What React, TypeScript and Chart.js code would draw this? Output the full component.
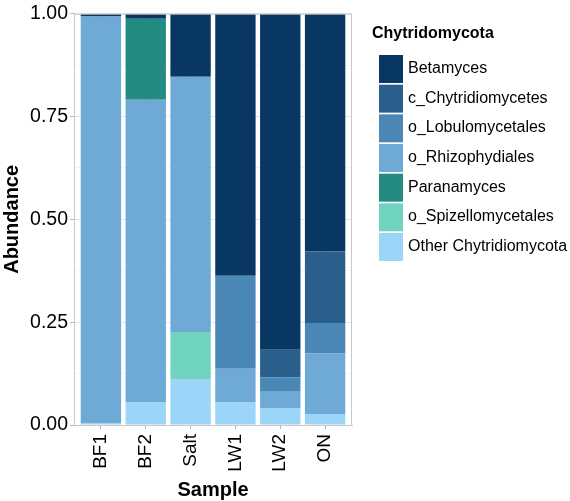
import React, { useEffect, useRef } from "react";
import { Chart, registerables } from "chart.js";

Chart.register(...registerables);

// ---- data ----
const samples = ["BF1", "BF2", "Salt", "LW1", "LW2", "ON"];
const taxa = [
  "Betamyces",
  "c_Chytridiomycetes",
  "o_Lobulomycetales",
  "o_Rhizophydiales",
  "Paranamyces",
  "o_Spizellomycetales",
  "Other Chytridiomycota",
];
const taxaColors = ["#083764", "#2a5f8b", "#4a86b6", "#6eaad5", "#238b82", "#70d4c0", "#9cd5f8"];

const betamyces = [0.007, 0.012, 0.153, 0.637, 0.817, 0.578];
const cChytridiomycetes = [0, 0, 0, 0, 0.067, 0.174];
const oLobulomycetales = [0, 0, 0, 0.226, 0.035, 0.074];
const oRhizophydiales = [0.988, 0.735, 0.621, 0.081, 0.041, 0.147];
const paranamyces = [0, 0.197, 0, 0, 0, 0];
const oSpizellomycetales = [0, 0, 0.114, 0, 0, 0];
const otherChytridiomycota = [0.005, 0.056, 0.112, 0.056, 0.04, 0.027];

const seriesValues = [
  betamyces,
  cChytridiomycetes,
  oLobulomycetales,
  oRhizophydiales,
  paranamyces,
  oSpizellomycetales,
  otherChytridiomycota,
];

// stacking order, bottom first (indices into taxa)
const stackOrder = [6, 5, 3, 2, 1, 4, 0];

const yMajorTicks = [0, 0.25, 0.5, 0.75, 1];
const yMinorTicks = [0.125, 0.375, 0.625, 0.875];

const legendTitle = "Chytridomycota";
const xTitle = "Sample";
const yTitle = "Abundance";

const FONT = "'Liberation Sans', Arial, Helvetica, sans-serif";

const isMajor = (v: number) => yMajorTicks.some((m) => Math.abs(m - v) < 1e-6);

export default function App() {
  const canvasRef = useRef<HTMLCanvasElement | null>(null);

  useEffect(() => {
    const canvas = canvasRef.current;
    if (!canvas) return;

    const datasets = stackOrder.map((ti) => ({
      label: taxa[ti],
      data: seriesValues[ti].map((v, i) => ({ x: i + 1, y: v })),
      backgroundColor: taxaColors[ti],
      borderWidth: 0,
      barPercentage: 0.9,
      categoryPercentage: 1,
    }));

    const decorPlugin = {
      id: "decor",
      afterDatasetsDraw(chart: any) {
        const { ctx, chartArea } = chart;
        ctx.save();
        ctx.strokeStyle = "#c8c8c8";
        ctx.lineWidth = 1;
        ctx.strokeRect(chartArea.left + 0.5, chartArea.top + 0.5, chartArea.right - chartArea.left - 1, chartArea.bottom - chartArea.top);
        ctx.restore();
      },
      afterDraw(chart: any) {
        const { ctx, chartArea } = chart;
        ctx.save();
        ctx.fillStyle = "#000";
        // x title
        ctx.font = `bold 20px ${FONT}`;
        ctx.textAlign = "center";
        ctx.textBaseline = "alphabetic";
        ctx.fillText(xTitle, (chartArea.left + chartArea.right) / 2, 496);
        // y title
        ctx.save();
        ctx.translate(18, (chartArea.top + chartArea.bottom) / 2);
        ctx.rotate(-Math.PI / 2);
        ctx.fillText(yTitle, 0, 0);
        ctx.restore();
        // legend
        ctx.textAlign = "left";
        ctx.font = `bold 16px ${FONT}`;
        ctx.fillText(legendTitle, 372, 37.5);
        ctx.font = `16px ${FONT}`;
        const pitch = 29.67;
        taxa.forEach((t, i) => {
          const top = 55 + i * pitch;
          ctx.fillStyle = taxaColors[i];
          ctx.fillRect(379, top, 24, pitch - 1.7);
          ctx.fillStyle = "#000";
          ctx.fillText(t, 408, top + 18);
        });
        ctx.restore();
      },
    };

    const chart = new Chart(canvas, {
      type: "bar",
      data: { datasets },
      options: {
        animation: false,
        responsive: false,
        layout: { padding: { left: 0, top: 9, right: 218, bottom: 0 } },
        plugins: {
          legend: { display: false },
          tooltip: { enabled: false },
        },
        scales: {
          x: {
            type: "linear",
            min: 0.4,
            max: 6.6,
            offset: false,
            stacked: true,
            afterBuildTicks: (s: any) => {
              s.ticks = samples.map((_, i) => ({ value: i + 1 }));
            },
            afterFit: (s: any) => {
              s.height = 76;
            },
            ticks: {
              autoSkip: false,
              minRotation: 90,
              maxRotation: 90,
              padding: 5,
              color: "#000",
              font: { family: FONT, size: 19 },
              callback: (v: any) => samples[Math.round(Number(v)) - 1] ?? "",
            },
            grid: {
              offset: false,
              color: "#ebebeb",
              tickColor: "#b8b8b8",
              tickLength: 4,
            },
            border: { display: true, color: "#c8c8c8" },
          },
          y: {
            type: "linear",
            min: 0,
            max: 1,
            stacked: true,
            afterBuildTicks: (s: any) => {
              s.ticks = [...yMajorTicks, ...yMinorTicks].sort((a, b) => a - b).map((v) => ({ value: v }));
            },
            afterFit: (s: any) => {
              s.width = 74;
            },
            ticks: {
              padding: 2,
              color: "#000",
              font: { family: FONT, size: 19.5 },
              callback: (v: any) => (isMajor(Number(v)) ? Number(v).toFixed(2) : ""),
            },
            grid: {
              color: (c: any) => (c.tick && isMajor(c.tick.value) ? "#e6e6e6" : "#f3f3f3"),
              tickColor: (c: any) => (c.tick && isMajor(c.tick.value) ? "#b8b8b8" : "rgba(0,0,0,0)"),
              tickLength: 4,
            },
            border: { display: true, color: "#c8c8c8" },
          },
        },
      } as any,
      plugins: [decorPlugin],
    });

    return () => chart.destroy();
  }, []);

  return (
    <div style={{ position: "fixed", left: 0, top: 0, width: 570, height: 501, background: "#fff" }}>
      <canvas ref={canvasRef} width={570} height={501} style={{ display: "block" }} />
    </div>
  );
}
